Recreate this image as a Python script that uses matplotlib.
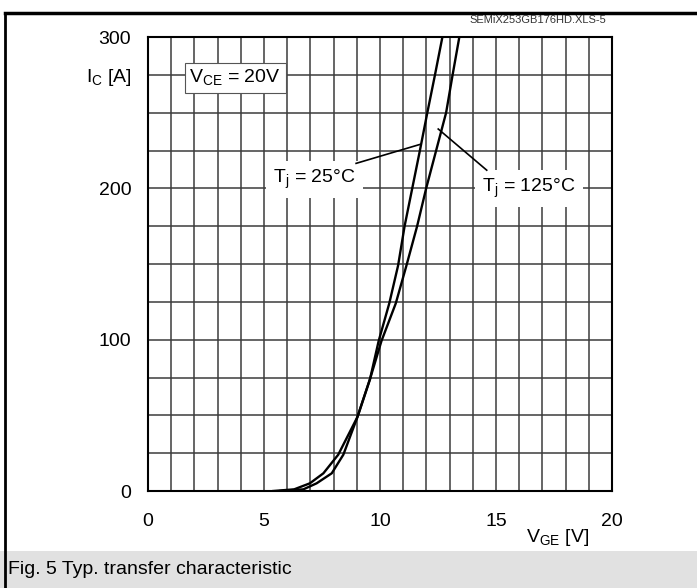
import matplotlib.pyplot as plt
import numpy as np
from matplotlib.patches import Rectangle

plt.rcParams["font.family"] = ["Liberation Sans", "DejaVu Sans"]

# collector current grid (A), shared by both curves
i_c = [0, 1.1, 5.1, 11.7, 24, 49, 74, 99, 124, 149, 175, 200, 225, 250, 275, 300]
# gate-emitter voltage (V)
v_ge_25 = [5.7, 6.7, 7.27, 7.92, 8.42, 9.03, 9.57, 9.94, 10.4, 10.78, 11.06, 11.39, 11.72, 12.04, 12.37, 12.69]
v_ge_125 = [5.4, 6.3, 6.98, 7.56, 8.2, 9.03, 9.57, 10.06, 10.68, 11.14, 11.6, 11.99, 12.42, 12.85, 13.13, 13.42]

x_ticks = [0, 5, 10, 15, 20]
y_ticks = [0, 100, 200, 300]

W, H = 697, 588
fig = plt.figure(figsize=(W / 100, H / 100), dpi=100)


def fx(px):
    return px / W


def fy(py):
    return 1 - py / H


# outer frame and caption band
fig.patches.append(Rectangle((fx(0), fy(588)), 1, fy(551) - fy(588), transform=fig.transFigure,
                             facecolor="#e1e1e1", edgecolor="none", zorder=0))
fig.add_artist(plt.Line2D([fx(5), 1], [fy(13), fy(13)], color="black", lw=2.5))
fig.add_artist(plt.Line2D([fx(5), fx(5)], [fy(13), 0], color="black", lw=2))
fig.text(fx(8), fy(569), "Fig. 5 Typ. transfer characteristic", fontsize=14, va="center", ha="left")
fig.text(fx(606), fy(20), "SEMiX253GB176HD.XLS-5", fontsize=8, va="center", ha="right", color="#333333")

ax = fig.add_axes([fx(148), fy(491), fx(612) - fx(148), fy(37) - fy(491)])
ax.set_xlim(0, 20)
ax.set_ylim(0, 300)
ax.set_xticks(np.arange(0, 21, 1), minor=True)
ax.set_yticks(np.arange(0, 301, 25), minor=True)
ax.set_xticks(x_ticks)
ax.set_yticks(y_ticks)
ax.tick_params(which="both", length=0, labelsize=14)
ax.tick_params(axis="x", pad=16)
ax.tick_params(axis="y", pad=12)
ax.grid(which="both", color="#3c3c3c", lw=1.1)
ax.set_axisbelow(True)
for s in ax.spines.values():
    s.set_linewidth(1.5)

ax.plot(v_ge_25, i_c, color="black", lw=1.7, zorder=4)
ax.plot(v_ge_125, i_c, color="black", lw=1.7, zorder=4)

# labels with white backgrounds over the grid
ax.text(3.76, 272.7, r"V$_{\mathregular{CE}}$ = 20V", fontsize=14, ha="center", va="center", zorder=5,
        bbox=dict(facecolor="white", edgecolor="#555555", lw=0.8, pad=3.5))
ax.text(5.4, 206, r"T$_{\mathregular{j}}$ = 25°C", fontsize=14, ha="left", va="center", zorder=5,
        bbox=dict(facecolor="white", edgecolor="none", pad=5))
ax.text(14.4, 200, r"T$_{\mathregular{j}}$ = 125°C", fontsize=14, ha="left", va="center", zorder=5,
        bbox=dict(facecolor="white", edgecolor="none", pad=5))
ax.plot([8.97, 11.72], [216.5, 229], color="black", lw=1.2, zorder=6)
ax.plot([12.51, 14.6], [239.2, 212], color="black", lw=1.2, zorder=6)

fig.text(fx(132), fy(77), r"I$_{\mathregular{C}}$ [A]", fontsize=14, ha="right", va="center")
fig.text(fx(589), fy(537), r"V$_{\mathregular{GE}}$ [V]", fontsize=14, ha="right", va="center")

fig.savefig("out.png", dpi=100)
